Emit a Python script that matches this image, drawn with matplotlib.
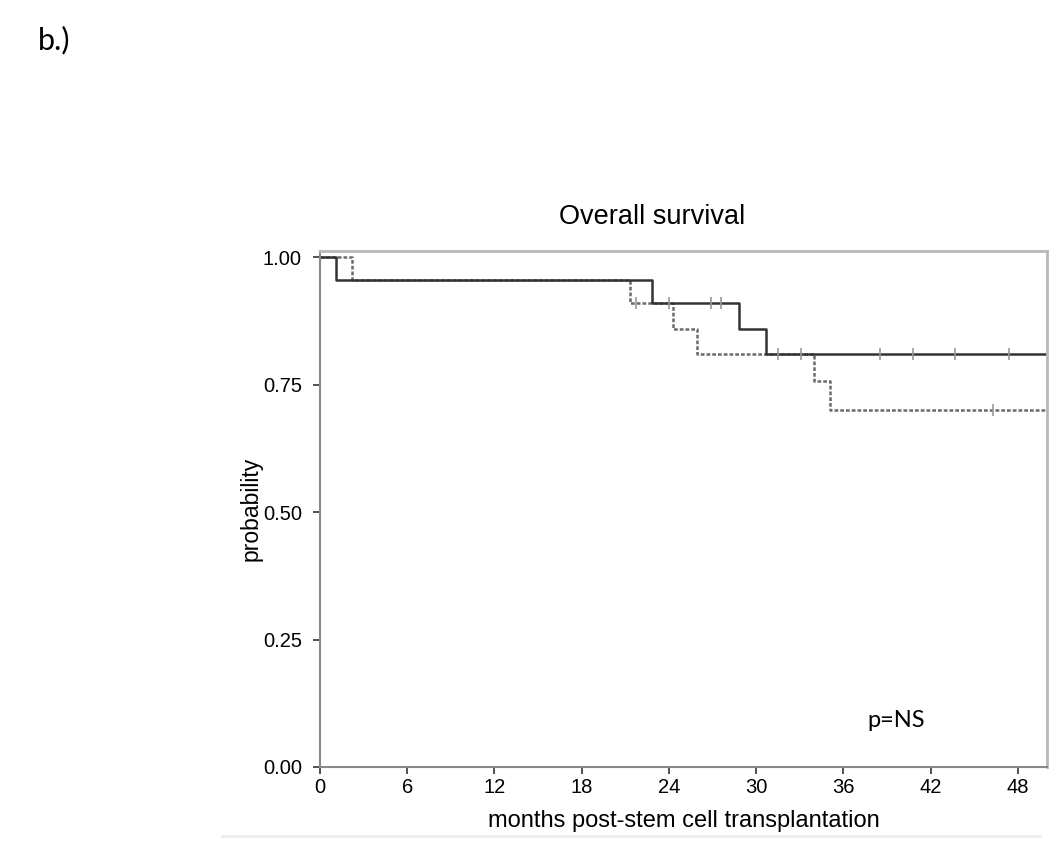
import matplotlib
matplotlib.use('Agg')
from matplotlib import pyplot as plt
from matplotlib.lines import Line2D

# Kaplan-Meier steps (months, survival probability)
solid_t = [0, 1.1, 22.8, 28.8, 30.7, 50]
solid_s = [1.0, 0.955, 0.91, 0.86, 0.81, 0.81]
dashed_t = [0, 2.2, 21.3, 24.3, 25.9, 34.0, 35.1, 50]
dashed_s = [1.0, 0.955, 0.91, 0.86, 0.81, 0.757, 0.70, 0.70]

# Censored observations
solid_cens_t = [24.0, 26.9, 27.6, 31.5, 33.1, 38.5, 40.8, 43.7, 47.4]
solid_cens_s = [0.91, 0.91, 0.91, 0.81, 0.81, 0.81, 0.81, 0.81, 0.81]
dashed_cens_t = [21.7, 46.3]
dashed_cens_s = [0.91, 0.70]

x_ticks = [0, 6, 12, 18, 24, 30, 36, 42, 48]
y_ticks = [0.0, 0.25, 0.50, 0.75, 1.00]
y_tick_labels = ['0.00', '0.25', '0.50', '0.75', '1.00']

SANS = ['Liberation Sans', 'DejaVu Sans']
plt.rcParams['font.family'] = SANS

fig = plt.figure(figsize=(10.5, 8.43), dpi=100)
ax = fig.add_axes([320 / 1050, 1 - 767 / 843, (1047 - 320) / 1050, (767 - 251) / 843])

ax.step(dashed_t, dashed_s, where='post', color='#6a6a6a', linewidth=1.8,
        linestyle=(0, (1.5, 0.8)))
ax.step(solid_t, solid_s, where='post', color='#333333', linewidth=1.8)
ax.plot(solid_cens_t, solid_cens_s, linestyle='none', marker='|', markersize=8,
        markeredgewidth=1.2, color='#999999')
ax.plot(dashed_cens_t, dashed_cens_s, linestyle='none', marker='|', markersize=8,
        markeredgewidth=1.2, color='#999999')

ax.set_xlim(0, 50)
ax.set_ylim(0, 1.012)
ax.set_xticks(x_ticks)
ax.set_yticks(y_ticks)
ax.set_yticklabels(y_tick_labels)
ax.tick_params(direction='out', length=5, width=1.2, color='#333333', labelsize=14.5)
ax.tick_params(axis='x', pad=3)
ax.tick_params(axis='y', pad=8)

for side in ['top', 'right']:
    ax.spines[side].set_color('#b8b8b8')
    ax.spines[side].set_linewidth(2)
for side in ['left', 'bottom']:
    ax.spines[side].set_color('#888888')
    ax.spines[side].set_linewidth(1.5)

ax.set_xlabel('months post-stem cell transplantation', fontsize=17, labelpad=9)
ax.set_ylabel('probability', fontsize=16.5, labelpad=0)

fig.text(652 / 1050, 1 - 217 / 843, 'Overall survival', ha='center', va='center',
         fontsize=19.5)
ax.text(0.753, 0.09, 'p=NS', transform=ax.transAxes, family=['Lato', 'DejaVu Sans'],
        fontsize=17, ha='left', va='center')
fig.text(38 / 1050, 1 - 40 / 843, 'b.)', ha='left', va='center',
         family=['Lato', 'DejaVu Sans'], fontsize=22)

# faint separator under the chart
fig.add_artist(Line2D([222 / 1050, 1040 / 1050], [1 - 836 / 843, 1 - 836 / 843],
                      color='#ececec', linewidth=2, transform=fig.transFigure))

fig.savefig('out.png', dpi=100, facecolor='white')
